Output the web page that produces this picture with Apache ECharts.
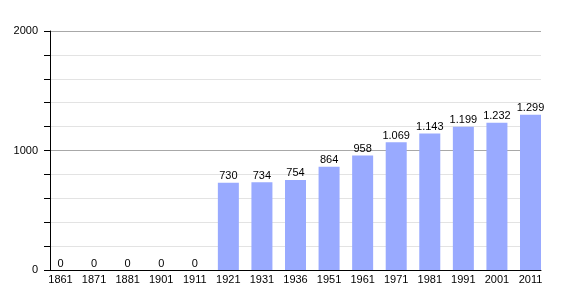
<!DOCTYPE html>
<html><head><meta charset="utf-8">
<script src="https://cdn.jsdelivr.net/npm/echarts@6/dist/echarts.min.js"></script>
<style>html,body{margin:0;padding:0;background:#fff}#c{width:570px;height:300px}</style>
</head><body><div id="c"></div>
<script>
const categories = ['1861','1871','1881','1901','1911','1921','1931','1936','1951','1961','1971','1981','1991','2001','2011'];
const population = [0,0,0,0,0,730,734,754,864,958,1069,1143,1199,1232,1299];
const yTickLabels = [0,1000,2000];

function fmt(v){return String(v).replace(/\B(?=(\d{3})+(?!\d))/g,'.');}
const idx = categories.map((c,i)=>i);
const pad = 0.3128;

const chart = echarts.init(document.getElementById('c'),null,{renderer:'canvas'});
chart.setOption({
  animation:false,
  backgroundColor:'#fff',
  grid:{left:50,right:29,top:31,bottom:30,containLabel:false},
  xAxis:{type:'value',min:-pad,max:categories.length-1+pad,
    splitLine:{show:false},
    axisLine:{show:true,onZero:false,lineStyle:{color:'#000',width:1}},
    axisTick:{show:false},
    axisLabel:{color:'#000',fontFamily:'Liberation Sans, Arial, sans-serif',fontSize:11,margin:4,
      customValues:idx,showMinLabel:true,showMaxLabel:true,
      formatter:v=>categories[Math.round(v)]}},
  yAxis:{type:'value',min:0,max:2000,interval:200,
    axisLine:{show:true,onZero:false,lineStyle:{color:'#000',width:1}},
    axisTick:{show:true,length:6,lineStyle:{color:'#000'}},
    axisLabel:{color:'#000',fontFamily:'Liberation Sans, Arial, sans-serif',fontSize:11,margin:12,
      formatter:v=>yTickLabels.includes(v)?String(v):''},
    splitLine:{show:true,lineStyle:{color:['#a8a8a8','#e3e3e3','#e3e3e3','#e3e3e3','#e3e3e3'],width:1}}},
  series:[{type:'bar',data:population.map((v,i)=>[i,v]),barWidth:21,
    itemStyle:{color:'#99aaff'},
    label:{show:true,position:'top',distance:1,color:'#000',fontFamily:'Liberation Sans, Arial, sans-serif',fontSize:11,
      formatter:p=>fmt(p.value[1])}}]
});
</script></body></html>
